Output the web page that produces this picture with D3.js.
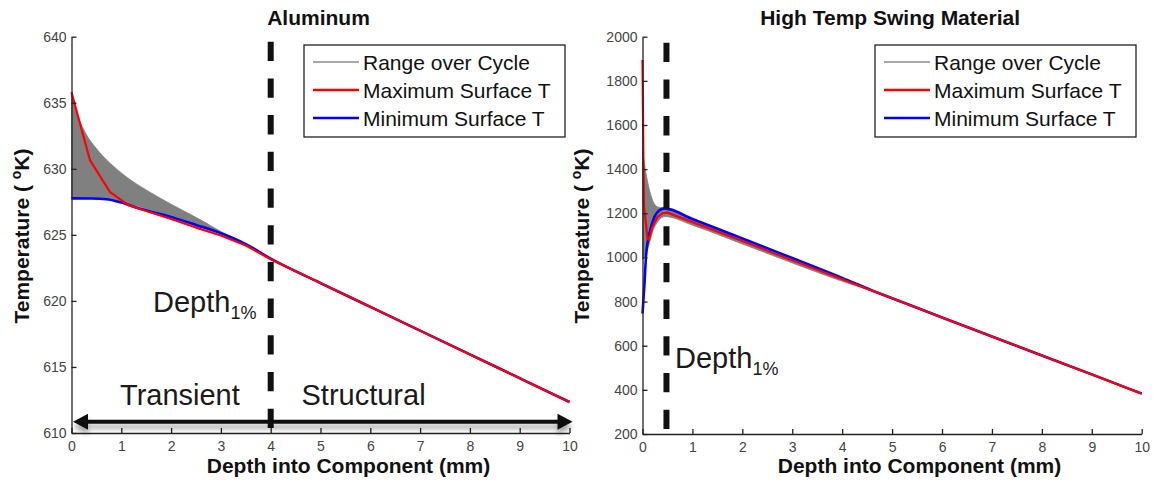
<!DOCTYPE html>
<html>
<head>
<meta charset="utf-8">
<script src="https://cdn.jsdelivr.net/npm/d3@7"></script>
<style>
  html, body { margin: 0; padding: 0; background: #fff; }
  svg { display: block; font-family: "Liberation Sans", Arial, sans-serif; }
  .tick text { fill: #444; font-size: 14px; }
  .tick line, .domain { stroke: #222; stroke-width: 1.3; }
</style>
</head>
<body>
<svg id="chart" width="1154" height="483"></svg>
<script>
// ---- Aluminum: temperature vs depth (K, mm) ----
const alMaxDepth = [0, 0.37, 0.77, 1.14, 1.5, 2, 2.5, 3, 3.5, 4, 5, 6, 7, 8, 9, 10];
const alMaxTemp  = [635.8, 630.66, 628.26, 627.25, 626.8, 626.2, 625.55, 624.95, 624.2, 623.15, 621.35, 619.55, 617.75, 615.95, 614.15, 612.35];
const alMinDepth = [0, 0.4, 0.7, 1.0, 1.4, 2.0, 2.5, 3.0, 3.5, 4, 5, 6, 7, 8, 9, 10];
const alMinTemp  = [627.76, 627.75, 627.7, 627.45, 626.95, 626.35, 625.75, 625.12, 624.3, 623.2, 621.35, 619.55, 617.75, 615.95, 614.15, 612.35];
const alRangeDepth = [0, 0.1, 0.27, 0.54, 0.87, 1.21, 1.61, 2.01, 2.41, 2.68, 3.0, 3.3];
const alRangeHigh  = [635.8, 634.3, 632.8, 631.35, 630.1, 629.1, 628.15, 627.3, 626.5, 625.95, 625.25, 624.7];
const alRangeLow   = [627.76, 627.76, 627.75, 627.73, 627.6, 627.3, 626.85, 626.35, 625.8, 625.45, 625.12, 624.7];
const alDepth1pct = 4;

// ---- High temp swing material ----
const htMaxDepth = [0, 0.01, 0.02, 0.03, 0.1, 0.13, 0.2, 0.3, 0.4, 0.5, 1, 2, 3, 4, 5, 6, 7, 8, 9, 10];
const htMaxTemp  = [1894, 1640, 1396, 1235, 1085, 1080, 1139, 1184, 1200, 1203, 1160, 1074, 987, 901, 815, 728, 642, 556, 470, 383];
const htMinDepth = [0, 0.04, 0.07, 0.14, 0.24, 0.34, 0.44, 1, 2, 3, 4, 4.7, 5, 6, 7, 8, 9, 10];
const htMinTemp  = [746, 882, 1003, 1109, 1184, 1214, 1222, 1174, 1086, 997, 907, 841, 815, 728, 642, 556, 470, 383];
const htRangeDepth = [0, 0.07, 0.14, 0.2, 0.3, 0.45, 1, 2, 3, 4, 4.7];
const htRangeHigh  = [1486, 1381, 1305, 1260, 1229, 1222, 1174, 1086, 997, 907, 841];
const htRangeLow   = [990, 1020, 1065, 1115, 1160, 1185, 1146, 1061, 975, 892, 841];
const htDepth1pct = 0.48;

const xTicks = [0, 1, 2, 3, 4, 5, 6, 7, 8, 9, 10];
const alYTicks = [610, 615, 620, 625, 630, 635, 640];
const htYTicks = [200, 400, 600, 800, 1000, 1200, 1400, 1600, 1800, 2000];
const legendLabels = ["Range over Cycle", "Maximum Surface T", "Minimum Surface T"];
const legendColors = ["#8c8c8c", "#ff0000", "#0000ff"];

const svg = d3.select("#chart");

const defs = svg.append("defs");
const shadow = defs.append("filter").attr("id", "arrowShadow")
  .attr("x", "-5%").attr("y", "-100%").attr("width", "110%").attr("height", "400%");
shadow.append("feDropShadow").attr("dx", 0).attr("dy", 5).attr("stdDeviation", 2.5)
  .attr("flood-color", "#000").attr("flood-opacity", 0.35);

function zip(a, b) { return a.map((v, i) => [v, b[i]]); }

function panel(cfg) {
  const x = d3.scaleLinear().domain([0, 10]).range(cfg.xRange);
  const y = d3.scaleLinear().domain(cfg.yDomain).range(cfg.yRange);
  const g = svg.append("g");

  // gray band: temperature range over the cycle
  const area = d3.area().curve(d3.curveMonotoneX)
    .x(d => x(d[0])).y0(d => y(d[1])).y1(d => y(d[2]));
  g.append("path")
    .datum(cfg.rangeDepth.map((d, i) => [d, cfg.rangeLow[i], cfg.rangeHigh[i]]))
    .attr("d", area).attr("fill", "#808080").attr("stroke", "#808080").attr("stroke-width", 0.8);

  const smooth = d3.line().curve(d3.curveMonotoneX).x(d => x(d[0])).y(d => y(d[1]));
  const line = d3.line().x(d => x(d[0])).y(d => y(d[1]));
  g.append("path").datum(zip(cfg.minDepth, cfg.minTemp)).attr("d", smooth)
    .attr("fill", "none").attr("stroke", "#0000ff").attr("stroke-width", 2.6);
  g.append("path").datum(zip(cfg.maxDepth, cfg.maxTemp)).attr("d", line)
    .attr("fill", "none").attr("stroke", "#ff0000").attr("stroke-width", 2.2)
    .attr("stroke-linejoin", "round");

  // axes with inward ticks
  g.append("g").attr("transform", `translate(0,${cfg.yRange[0]})`)
    .call(d3.axisBottom(x).tickValues(xTicks).tickFormat(d3.format("d"))
      .tickSizeInner(-5).tickSizeOuter(0).tickPadding(8));
  g.append("g").attr("transform", `translate(${cfg.xRange[0]},0)`)
    .call(d3.axisLeft(y).tickValues(cfg.yTicks).tickFormat(d3.format("d"))
      .tickSizeInner(-5).tickSizeOuter(0).tickPadding(5));

  // depth of 1% swing marker
  g.append("line")
    .attr("x1", x(cfg.depth1pct)).attr("x2", x(cfg.depth1pct))
    .attr("y1", cfg.dashTop).attr("y2", cfg.yRange[0])
    .attr("stroke", "#111").attr("stroke-width", 6).attr("stroke-dasharray", "19.3,17.4");

  // titles
  g.append("text").attr("x", (cfg.xRange[0] + cfg.xRange[1]) / 2 - 2).attr("y", 25)
    .attr("text-anchor", "middle").attr("font-weight", "bold").attr("font-size", 21)
    .attr("fill", "#111").text(cfg.title);
  g.append("text").attr("x", cfg.xLabelX).attr("y", 473)
    .attr("text-anchor", "middle").attr("font-weight", "bold").attr("font-size", 21)
    .attr("fill", "#111").text("Depth into Component (mm)");
  const yl = g.append("text")
    .attr("transform", `translate(${cfg.yLabelX},236) rotate(-90)`)
    .attr("text-anchor", "middle").attr("font-weight", "bold").attr("font-size", 21)
    .attr("fill", "#111");
  yl.append("tspan").text("Temperature ( ");
  yl.append("tspan").attr("font-size", 14).attr("dy", -8).text("o");
  yl.append("tspan").attr("dy", 8).text("K)");

  // Depth_1% label
  const dl = g.append("text").attr("x", cfg.depthLabel[0]).attr("y", cfg.depthLabel[1])
    .attr("font-size", 29).attr("fill", "#1a1a1a");
  dl.append("tspan").text("Depth");
  dl.append("tspan").attr("font-size", 18).attr("dy", 7).text("1%");

  // legend
  const lg = g.append("g");
  lg.append("rect").attr("x", cfg.legend[0]).attr("y", 45)
    .attr("width", 261).attr("height", 92)
    .attr("fill", "#fff").attr("stroke", "#222").attr("stroke-width", 1.3);
  legendLabels.forEach((lab, i) => {
    const cy = 62 + i * 28;
    lg.append("line").attr("x1", cfg.legend[0] + 9).attr("x2", cfg.legend[0] + 55)
      .attr("y1", cy).attr("y2", cy).attr("stroke", legendColors[i])
      .attr("stroke-width", i === 0 ? 1.5 : 2.6);
    lg.append("text").attr("x", cfg.legend[0] + 59).attr("y", cy + 7.5)
      .attr("font-size", 21).attr("fill", "#111").text(lab);
  });
  return { g, x, y };
}

const left = panel({
  xRange: [71.5, 569.5], yDomain: [610, 640], yRange: [433, 36.7], yTicks: alYTicks,
  maxDepth: alMaxDepth, maxTemp: alMaxTemp, minDepth: alMinDepth, minTemp: alMinTemp,
  rangeDepth: alRangeDepth, rangeHigh: alRangeHigh, rangeLow: alRangeLow,
  depth1pct: alDepth1pct, dashTop: 41.7, title: "Aluminum",
  xLabelX: 348.5, yLabelX: 29, depthLabel: [153, 311.7], legend: [304]
});

const right = panel({
  xRange: [642.5, 1141.7], yDomain: [200, 2000], yRange: [434, 36.7], yTicks: htYTicks,
  maxDepth: htMaxDepth, maxTemp: htMaxTemp, minDepth: htMinDepth, minTemp: htMinTemp,
  rangeDepth: htRangeDepth, rangeHigh: htRangeHigh, rangeLow: htRangeLow,
  depth1pct: htDepth1pct, dashTop: 42.7, title: "High Temp Swing Material",
  xLabelX: 919.5, yLabelX: 589, depthLabel: [675, 368.3], legend: [875]
});

// Transient / Structural regions along the aluminum depth axis
(function () {
  const { g, x, y } = left;
  const ay = y(610.85);
  const x0 = x(0) + 1.5, x1 = x(10) + 3;
  const ag = g.append("g").attr("filter", "url(#arrowShadow)");
  ag.append("line").attr("x1", x0 + 10).attr("x2", x1 - 10).attr("y1", ay).attr("y2", ay)
    .attr("stroke", "#111").attr("stroke-width", 4);
  ag.append("path").attr("d", `M${x0},${ay} L${x0 + 15},${ay - 8} L${x0 + 15},${ay + 8} Z`).attr("fill", "#111");
  ag.append("path").attr("d", `M${x1},${ay} L${x1 - 15},${ay - 8} L${x1 - 15},${ay + 8} Z`).attr("fill", "#111");
  g.append("text").attr("x", 120).attr("y", 405).attr("font-size", 29).attr("fill", "#1a1a1a").text("Transient");
  g.append("text").attr("x", 301.5).attr("y", 405).attr("font-size", 29).attr("fill", "#1a1a1a").text("Structural");
})();
</script>
</body>
</html>
